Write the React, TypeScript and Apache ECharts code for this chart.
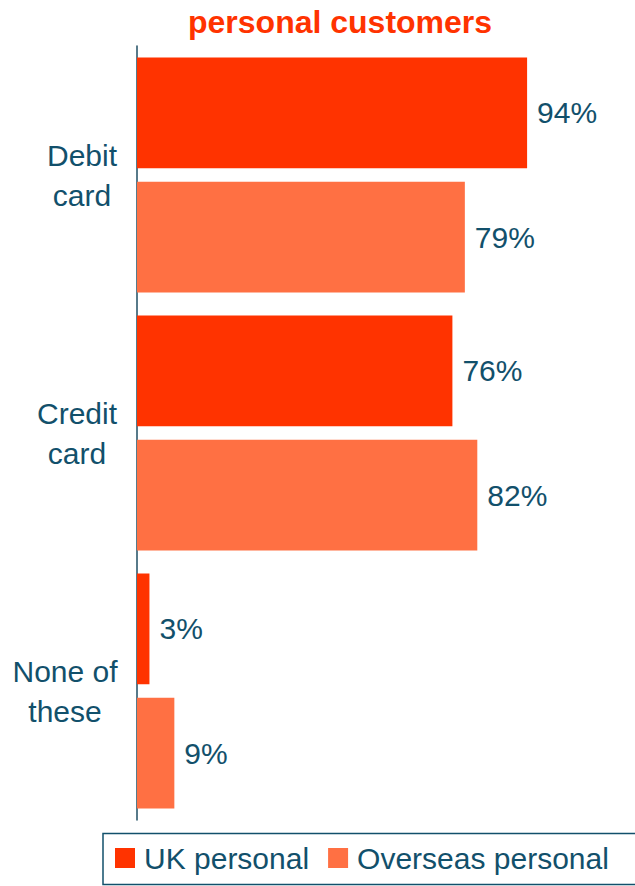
import React, { useEffect, useRef } from "react";
import * as echarts from "echarts";

const categories = ["Debit\ncard", "Credit\ncard", "None of\nthese"];
const ukPersonal = [94, 76, 3];
const overseasPersonal = [79, 82, 9];
const seriesNames = ["UK personal", "Overseas personal"];
const titleText = "personal customers";

const TEAL = "#12506B";
const FONT = "'Liberation Sans', Arial, sans-serif";

export default function App() {
  const ref = useRef<HTMLDivElement>(null);
  useEffect(() => {
    if (!ref.current) return;
    const chart = echarts.init(ref.current, null, { renderer: "svg" });
    const labelPads = [
      [0, 0, 0, 8],
      [0, 2, 0, 0],
      [0, 26, 0, 0],
    ];
    chart.setOption({
      animation: false,
      title: {
        text: titleText,
        left: 188,
        top: 6,
        padding: 0,
        textStyle: { color: "#FF3300", fontSize: 32, fontWeight: "bold", fontFamily: FONT },
      },
      graphic: [
        {
          type: "rect",
          z: 0,
          silent: true,
          shape: { x: 103, y: 833.5, width: 600, height: 51 },
          style: { fill: "none", stroke: TEAL, lineWidth: 1.5 },
        },
      ],
      legend: {
        data: seriesNames,
        left: 103,
        top: 833,
        orient: "horizontal",
        itemWidth: 20,
        itemHeight: 20,
        itemGap: 19,
        padding: [10, 0, 12, 12],
        borderWidth: 0,
        icon: "rect",
        textStyle: { color: TEAL, fontSize: 30, fontFamily: FONT, padding: [0, 0, 0, 4] },
      },
      grid: {
        left: 137,
        top: 46,
        width: 415,
        height: 774,
        containLabel: false,
        outerBoundsMode: "none",
      },
      xAxis: {
        type: "value",
        min: 0,
        max: 100,
        show: false,
      },
      yAxis: {
        type: "category",
        inverse: true,
        data: categories.map((c, i) => ({
          value: c,
          textStyle: { padding: labelPads[i], align: "center", verticalAlign: "middle" },
        })),
        axisLine: { show: true, lineStyle: { color: "#1F4E63", width: 1.5 } },
        axisTick: { show: false },
        axisLabel: {
          color: TEAL,
          fontSize: 30,
          fontFamily: FONT,
          lineHeight: 40,
          align: "center",
          margin: 59,
        },
      },
      series: [
        {
          name: seriesNames[0],
          type: "bar",
          data: ukPersonal,
          itemStyle: { color: "#FF3300" },
          barCategoryGap: "9%",
          barGap: "12%",
          label: {
            show: true,
            position: "right",
            distance: 10,
            formatter: "{c}%",
            color: TEAL,
            fontSize: 30,
            fontFamily: FONT,
          },
        },
        {
          name: seriesNames[1],
          type: "bar",
          data: overseasPersonal,
          itemStyle: { color: "#FF7043" },
          barCategoryGap: "9%",
          barGap: "12%",
          label: {
            show: true,
            position: "right",
            distance: 10,
            formatter: "{c}%",
            color: TEAL,
            fontSize: 30,
            fontFamily: FONT,
          },
        },
      ],
    });
    return () => chart.dispose();
  }, []);
  return (
    <div
      ref={ref}
      style={{ position: "fixed", left: 0, top: 0, width: 635, height: 886, background: "#fff" }}
    />
  );
}
